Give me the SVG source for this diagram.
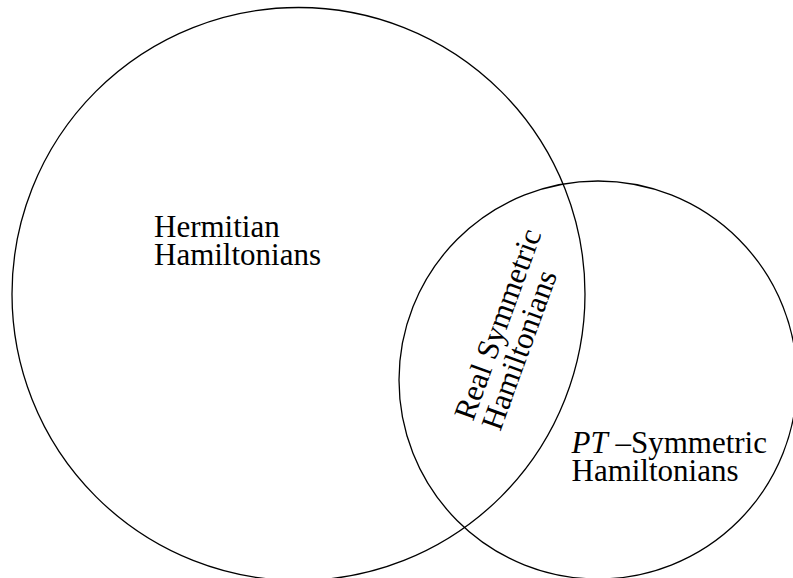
<svg xmlns="http://www.w3.org/2000/svg" width="793" height="578" viewBox="0 0 793 578">
<style>
.c{fill:none;stroke:#000;stroke-width:1.3}
.t{font-family:"Liberation Serif","Times New Roman",serif;font-size:31px;fill:#000}
.i{font-style:italic}
</style>
<rect width="793" height="578" fill="#fff"/>
<g id="hermitian">
<circle class="c" cx="298.5" cy="294" r="286.5"/>
<text class="t" x="154" y="237"><tspan x="154" y="237">Hermitian</tspan><tspan x="154" y="265">Hamiltonians</tspan></text>
</g>
<g id="pt-symmetric">
<circle class="c" cx="598" cy="380" r="199"/>
<text class="t" x="571.5" y="453"><tspan class="i">PT</tspan> –Symmetric<tspan x="571.5" y="481">Hamiltonians</tspan></text>
</g>
<g id="real-symmetric" transform="translate(473,422) rotate(-70)">
<text class="t" x="0" y="0"><tspan x="0" y="0">Real Symmetric</tspan><tspan x="0" y="29">Hamiltonians</tspan></text>
</g>
<g id="connectors"/>
</svg>
